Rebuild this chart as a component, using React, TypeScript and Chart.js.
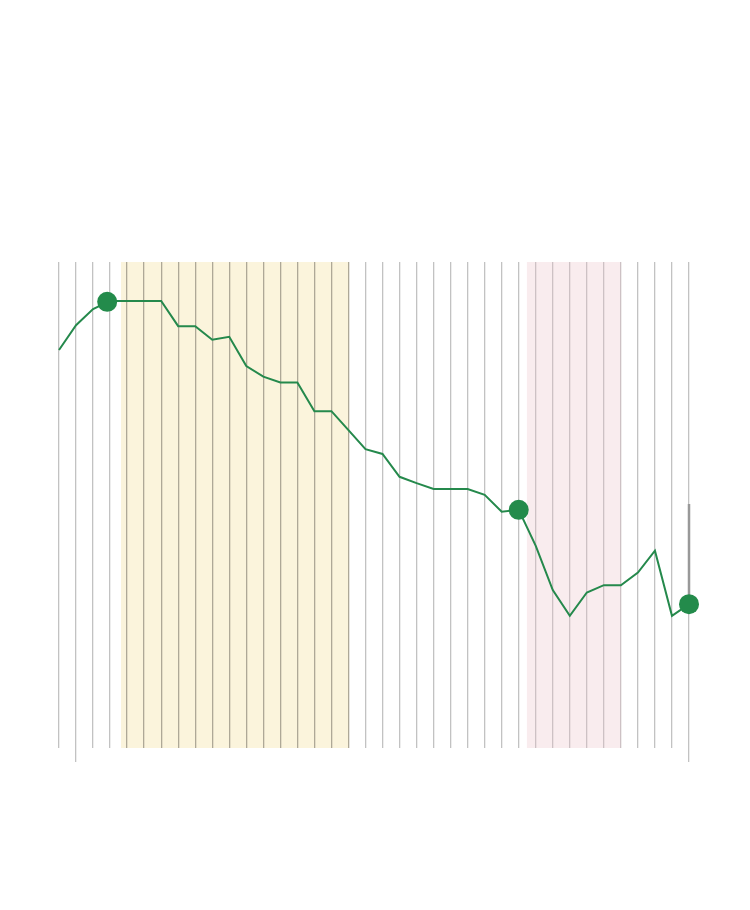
import React, { useEffect, useRef } from "react";
import { Chart, registerables } from "chart.js";

Chart.register(...registerables);

// Series values (0–100 scale), one per period index 0..37
const seriesValues = [
  81.9, 87.0, 90.3, 92.0, 92.0, 92.0, 92.0, 86.8, 86.8, 84.0,
  84.6, 78.6, 76.4, 75.2, 75.2, 69.3, 69.3, 65.4, 61.5, 60.5,
  55.8, 54.5, 53.3, 53.3, 53.3, 52.1, 48.6, 49.0, 41.6, 32.5,
  27.2, 32.0, 33.5, 33.5, 36.1, 40.6, 27.2, 29.6,
];

// Highlighted points (x position, value)
const highlightX = [2.83, 27, 37];
const highlightY = [91.8, 49.0, 29.6];

// Range marker at the last period
const rangeX = [37, 37];
const rangeY = [50.2, 29.6];

// Shaded periods [start, end]
const yellowBand = [3.64, 17.02];
const pinkBand = [27.48, 33.0];

// Periods with extended tick marks
const longTicks = [1, 37];

const shadePlugin = {
  id: "shade",
  beforeDraw(chart: any) {
    const { ctx, chartArea, scales } = chart;
    const x = scales.x;
    const draw = (band: number[], color: string) => {
      const x0 = x.getPixelForValue(band[0]);
      const x1 = x.getPixelForValue(band[1]);
      ctx.save();
      ctx.fillStyle = color;
      ctx.fillRect(x0, chartArea.top, x1 - x0, chartArea.bottom - chartArea.top);
      ctx.restore();
    };
    draw(yellowBand, "#fbf4dc");
    draw(pinkBand, "#f9ecee");
  },
};

export default function App() {
  const ref = useRef<HTMLCanvasElement>(null);

  useEffect(() => {
    if (!ref.current) return;
    const inBand = (v: number, b: number[]) => v >= Math.ceil(b[0]) && v <= Math.round(b[1]);
    const chart = new Chart(ref.current, {
      type: "line",
      data: {
        datasets: [
          {
            label: "highlights",
            data: highlightX.map((x, i) => ({ x, y: highlightY[i] })),
            showLine: false,
            pointRadius: 10,
            pointBackgroundColor: "#238b4b",
            pointBorderColor: "#238b4b",
            pointBorderWidth: 0,
            clip: false,
            order: 0,
          },
          {
            label: "series",
            data: seriesValues.map((y, i) => ({ x: i, y })),
            borderColor: "#25894c",
            borderWidth: 2,
            pointRadius: 0,
            tension: 0,
            clip: false,
            order: 1,
          },
          {
            label: "range",
            data: rangeX.map((x, i) => ({ x, y: rangeY[i] })),
            borderColor: "#999999",
            borderWidth: 2.5,
            pointRadius: 0,
            clip: false,
            order: 2,
          },
        ],
      },
      options: {
        animation: false,
        responsive: true,
        maintainAspectRatio: false,
        layout: { padding: { left: 51, right: 53, top: 254, bottom: 140 } },
        plugins: { legend: { display: false }, tooltip: { enabled: false } },
        scales: {
          x: {
            type: "linear",
            min: 0,
            max: 37,
            border: { display: false },
            ticks: { display: false, stepSize: 1, autoSkip: false },
            grid: {
              drawTicks: true,
              tickLength: 14,
              lineWidth: 1.3,
              tickWidth: 1.3,
              color: (c: any) => {
                const v = c.tick ? c.tick.value : c.index;
                if (inBand(v, yellowBand)) return "#aea897";
                if (inBand(v, pinkBand)) return "#cdc1c4";
                return "#c2c2c2";
              },
              tickColor: (c: any) => {
                const v = c.tick ? c.tick.value : c.index;
                return longTicks.includes(v) ? "#c2c2c2" : "rgba(0,0,0,0)";
              },
            },
          },
          y: {
            display: false,
            min: 0,
            max: 100,
          },
        },
      },
      plugins: [shadePlugin],
    });
    return () => chart.destroy();
  }, []);

  return (
    <div style={{ width: 734, height: 894 }}>
      <canvas ref={ref} />
    </div>
  );
}
